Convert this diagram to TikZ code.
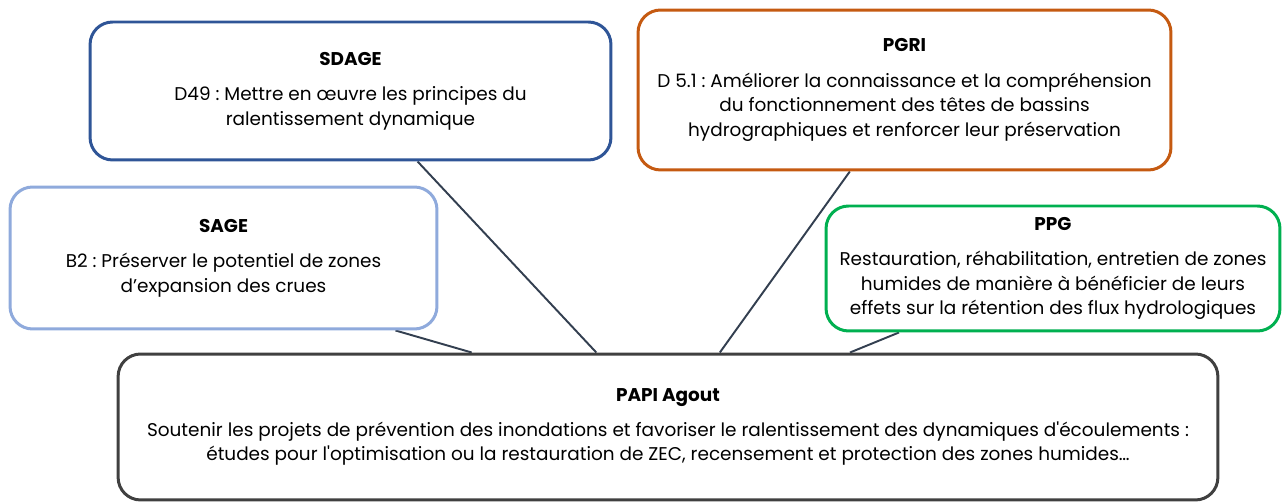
\documentclass[tikz,border=0pt]{standalone}
\usepackage{fontspec}
\setmainfont{Poppins}
\usepackage{tikz}
\usetikzlibrary{calc}
\usetikzlibrary{backgrounds}
\frenchspacing

\definecolor{sdageblue}{HTML}{2F5597}
\definecolor{pgriorange}{HTML}{C55A11}
\definecolor{sageblue}{HTML}{8FAADC}
\definecolor{ppggreen}{HTML}{00B050}
\definecolor{papigray}{HTML}{404040}
\definecolor{linkslate}{HTML}{333F50}

\tikzset{
  planbox/.style={line width=1.7pt, rounded corners=0.45cm, fill=white,
    align=center, inner sep=0pt, font=\fontsize{10.5pt}{14pt}\selectfont},
  link/.style={linkslate, line width=1.1pt}
}

\begin{document}
\begin{tikzpicture}[x=0.02cm, y=-0.02cm]
      \useasboundingbox (0,0) rectangle (1282,502);

      \node [planbox, draw=sdageblue, minimum width=10.42cm, minimum height=2.76cm]
      (sdage) at (350.5,91) {\textbf{SDAGE}\\[6pt]
        D49 : Mettre en œuvre les principes du\\ ralentissement dynamique};

      \node [planbox, draw=pgriorange, minimum width=10.66cm, minimum height=3.2cm]
      (pgri) at (904.5,90) {\textbf{PGRI}\\[6pt]
        D 5.1 : Améliorer la connaissance et la compréhension\\
        du fonctionnement des têtes de bassins\\
        hydrographiques et renforcer leur préservation};

      \node [planbox, draw=sageblue, minimum width=8.54cm, minimum height=2.84cm]
      (sage) at (223.5,258) {\textbf{SAGE}\\[6pt]
        B2 : Préserver le potentiel de zones\\ d’expansion des crues};

      \node [planbox, draw=ppggreen, minimum width=9.08cm, minimum height=2.5cm]
      (ppg) at (1053,268.5) {\textbf{PPG}\\[6pt]
        Restauration, réhabilitation, entretien de zones\\
        humides de manière à bénéficier de leurs\\
        effets sur la rétention des flux hydrologiques};

      \node [planbox, draw=papigray, minimum width=22cm, minimum height=2.92cm]
      (papi) at (668,427) {\textbf{PAPI Agout}\\[6pt]
        Soutenir les projets de prévention des inondations et favoriser le ralentissement des dynamiques d\textquotesingle écoulements :\\
        études pour l\textquotesingle optimisation ou la restauration de ZEC, recensement et protection des zones humides…};

      % liens vers le PAPI
      \begin{scope}[on background layer]
        \draw [link] ($(sdage.south west)!0.628!(sdage.south east)$)
        -- ($(papi.north west)!0.435!(papi.north east)$);
        \draw [link] ($(pgri.south west)!0.398!(pgri.south east)$)
        -- ($(papi.north west)!0.547!(papi.north east)$);
        \draw [link] ($(sage.south west)!0.9!(sage.south east)$)
        -- ($(papi.north west)!0.322!(papi.north east)$);
        \draw [link] ($(ppg.south west)!0.163!(ppg.south east)$)
        -- ($(papi.north west)!0.665!(papi.north east)$);
      \end{scope}
\end{tikzpicture}
\end{document}
